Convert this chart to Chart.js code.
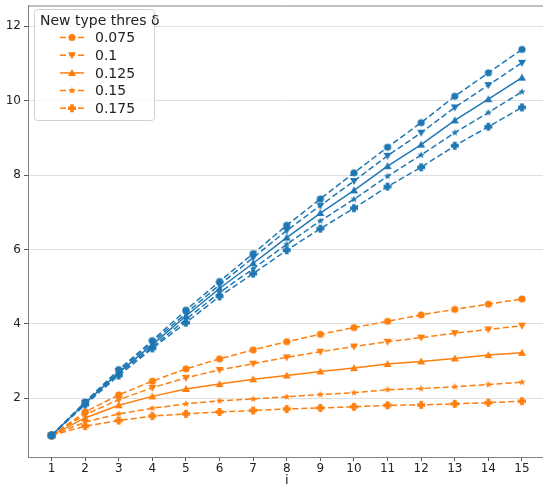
<!DOCTYPE html>
<html>
<head>
<meta charset="utf-8">
<script src="https://cdn.jsdelivr.net/npm/chart.js@4.4.1/dist/chart.umd.min.js"></script>
<style>
  html, body { margin: 0; padding: 0; background: #fff; overflow: hidden; width: 543px; height: 487px; }
  #wrap { position: absolute; left: 0; top: 0; width: 543px; height: 487px; overflow: hidden; }
  #chart { position: absolute; left: 0; top: 0; }
</style>
</head>
<body>
<div id="wrap"><canvas id="chart" width="551" height="487"></canvas></div>
<script>
// x positions (i) and tick labels
const steps = [1, 2, 3, 4, 5, 6, 7, 8, 9, 10, 11, 12, 13, 14, 15];
const yTicks = [2, 4, 6, 8, 10, 12];
const thresholds = ['0.075', '0.1', '0.125', '0.15', '0.175'];

// upper (blue) group, one per threshold
const blue075 = [1, 1.90, 2.77, 3.55, 4.37, 5.14, 5.89, 6.65, 7.36, 8.06, 8.75, 9.41, 10.12, 10.75, 11.38];
const blue100 = [1, 1.88, 2.73, 3.50, 4.28, 5.05, 5.78, 6.51, 7.18, 7.84, 8.52, 9.14, 9.82, 10.42, 11.02];
const blue125 = [1, 1.87, 2.69, 3.44, 4.21, 4.95, 5.63, 6.32, 6.98, 7.59, 8.24, 8.82, 9.47, 10.04, 10.62];
const blue150 = [1, 1.85, 2.66, 3.38, 4.12, 4.84, 5.48, 6.14, 6.77, 7.35, 7.97, 8.54, 9.14, 9.68, 10.24];
const blue175 = [1, 1.83, 2.61, 3.34, 4.03, 4.74, 5.35, 5.98, 6.56, 7.11, 7.69, 8.21, 8.79, 9.30, 9.82];

// lower (orange) group, one per threshold
const orange075 = [1, 1.63, 2.09, 2.46, 2.79, 3.06, 3.30, 3.52, 3.72, 3.90, 4.07, 4.24, 4.39, 4.53, 4.67];
const orange100 = [1, 1.56, 1.96, 2.28, 2.55, 2.76, 2.93, 3.10, 3.25, 3.39, 3.52, 3.63, 3.75, 3.85, 3.95];
const orange125 = [1, 1.47, 1.81, 2.05, 2.25, 2.38, 2.51, 2.61, 2.72, 2.81, 2.92, 2.99, 3.07, 3.16, 3.22];
const orange150 = [1, 1.36, 1.58, 1.73, 1.85, 1.93, 1.98, 2.04, 2.10, 2.15, 2.23, 2.26, 2.31, 2.37, 2.43];
const orange175 = [1, 1.25, 1.40, 1.52, 1.58, 1.63, 1.67, 1.71, 1.74, 1.77, 1.81, 1.82, 1.85, 1.88, 1.92];

const BLUE = '#1f77b4';
const ORANGE = '#ff7f0e';
const FONT = "'DejaVu Sans', sans-serif";

// marker drawing shared by the points and the legend
function drawMarker(ctx, kind, x, y, color) {
    ctx.save();
    ctx.fillStyle = color;
    ctx.strokeStyle = color;
    ctx.setLineDash([]);
    ctx.beginPath();
    if (kind === 'circle') {
        ctx.arc(x, y, 3.6, 0, Math.PI * 2);
    } else if (kind === 'tridown') {
        ctx.moveTo(x - 4, y - 3); ctx.lineTo(x + 4, y - 3); ctx.lineTo(x, y + 4);
    } else if (kind === 'triup') {
        ctx.moveTo(x - 4, y + 3); ctx.lineTo(x + 4, y + 3); ctx.lineTo(x, y - 4);
    } else if (kind === 'star') {
        for (let k = 0; k < 10; k++) {
            const r = k % 2 === 0 ? 3.8 : 1.6;
            const a = -Math.PI / 2 + k * Math.PI / 5;
            const px = x + r * Math.cos(a), py = y + r * Math.sin(a);
            if (k === 0) ctx.moveTo(px, py); else ctx.lineTo(px, py);
        }
    } else if (kind === 'plus') {
        const a = 4, b = 1.8;
        ctx.moveTo(x - b, y - a); ctx.lineTo(x + b, y - a); ctx.lineTo(x + b, y - b);
        ctx.lineTo(x + a, y - b); ctx.lineTo(x + a, y + b); ctx.lineTo(x + b, y + b);
        ctx.lineTo(x + b, y + a); ctx.lineTo(x - b, y + a); ctx.lineTo(x - b, y + b);
        ctx.lineTo(x - a, y + b); ctx.lineTo(x - a, y - b); ctx.lineTo(x - b, y - b);
    }
    ctx.closePath();
    ctx.fill();
    ctx.restore();
}

function markerImage(kind, color) {
    const c = document.createElement('canvas');
    c.width = 10; c.height = 10;
    drawMarker(c.getContext('2d'), kind, 5, 5, color);
    return c;
}

const markers = ['circle', 'tridown', 'triup', 'star', 'plus'];
const dashes = [[6, 3], [6, 3], [], [6, 3], [6, 3]];

function makeSet(values, i, color, label) {
    return {
        label: label,
        data: values.map((v, k) => ({ x: steps[k], y: v })),
        borderColor: color,
        backgroundColor: color,
        borderWidth: 1.5,
        borderDash: dashes[i],
        pointStyle: markerImage(markers[i], color),
        pointRadius: 4,
        tension: 0,
        fill: false,
    };
}

const blueSets = [blue075, blue100, blue125, blue150, blue175].map((v, i) => makeSet(v, i, BLUE, '_nolegend_'));
const orangeSets = [orange075, orange100, orange125, orange150, orange175].map((v, i) => makeSet(v, i, ORANGE, thresholds[i]));

// legend drawn inside the plot area, upper left
const insideLegend = {
    id: 'insideLegend',
    afterDraw(chart) {
        const ctx = chart.ctx;
        const area = chart.chartArea;
        ctx.save();
        // top spine
        ctx.strokeStyle = '#808080';
        ctx.lineWidth = 1;
        ctx.beginPath();
        ctx.moveTo(area.left, area.top + 0.5);
        ctx.lineTo(area.right, area.top + 0.5);
        ctx.stroke();

        const bx = 34.5, by = 9.5, bw = 120, bh = 111;
        ctx.fillStyle = 'rgba(255,255,255,0.8)';
        ctx.strokeStyle = '#d0d0d0';
        ctx.beginPath();
        ctx.roundRect(bx, by, bw, bh, 3);
        ctx.fill();
        ctx.stroke();

        ctx.fillStyle = '#222';
        ctx.font = '14px ' + FONT;
        ctx.textBaseline = 'middle';
        ctx.textAlign = 'left';
        ctx.fillText('New type thres δ', 40, 21);

        orangeSets.forEach((ds, i) => {
            const y = 37.5 + i * 17.7;
            ctx.strokeStyle = ORANGE;
            ctx.lineWidth = 1.5;
            ctx.setLineDash(dashes[i]);
            ctx.beginPath();
            ctx.moveTo(60, y);
            ctx.lineTo(84, y);
            ctx.stroke();
            drawMarker(ctx, markers[i], 72, y, ORANGE);
            ctx.fillStyle = '#222';
            ctx.fillText(ds.label, 95, y + 1);
        });
        ctx.restore();
    }
};

const ctx = document.getElementById('chart').getContext('2d');
new Chart(ctx, {
    type: 'line',
    data: { datasets: [...blueSets, ...orangeSets] },
    options: {
        responsive: false,
        animation: false,
        events: [],
        devicePixelRatio: 1,
        layout: { padding: { top: 3, left: 0, right: 0, bottom: 0 } },
        plugins: {
            legend: { display: false },
            tooltip: { enabled: false },
        },
        scales: {
            x: {
                type: 'linear',
                min: 0.3,
                max: 15.7,
                afterBuildTicks: (scale) => { scale.ticks = steps.map(v => ({ value: v })); },
                afterFit: (scale) => { scale.height = 30; scale.paddingLeft = 0; scale.paddingRight = 0; },
                grid: { drawOnChartArea: false, drawTicks: true, tickLength: 4, tickColor: '#555' },
                border: { color: '#808080', width: 1 },
                ticks: { color: '#222', padding: 1, maxRotation: 0, autoSkip: false, font: { family: FONT, size: 12 } },
                title: { display: true, text: 'i', color: '#222', padding: { top: 0, bottom: 0 }, font: { family: FONT, size: 13, lineHeight: 1 } },
            },
            y: {
                min: 0.42,
                max: 12.56,
                afterBuildTicks: (scale) => { scale.ticks = yTicks.map(v => ({ value: v })); },
                afterFit: (scale) => { scale.width = 28; scale.paddingTop = 0; scale.paddingBottom = 0; },
                grid: { color: '#e0e0e0', lineWidth: 1, drawTicks: true, tickLength: 4, tickColor: '#555' },
                border: { color: '#808080', width: 1 },
                ticks: { color: '#222', padding: 3, font: { family: FONT, size: 12 } },
            },
        },
    },
    plugins: [insideLegend],
});
</script>
</body>
</html>
